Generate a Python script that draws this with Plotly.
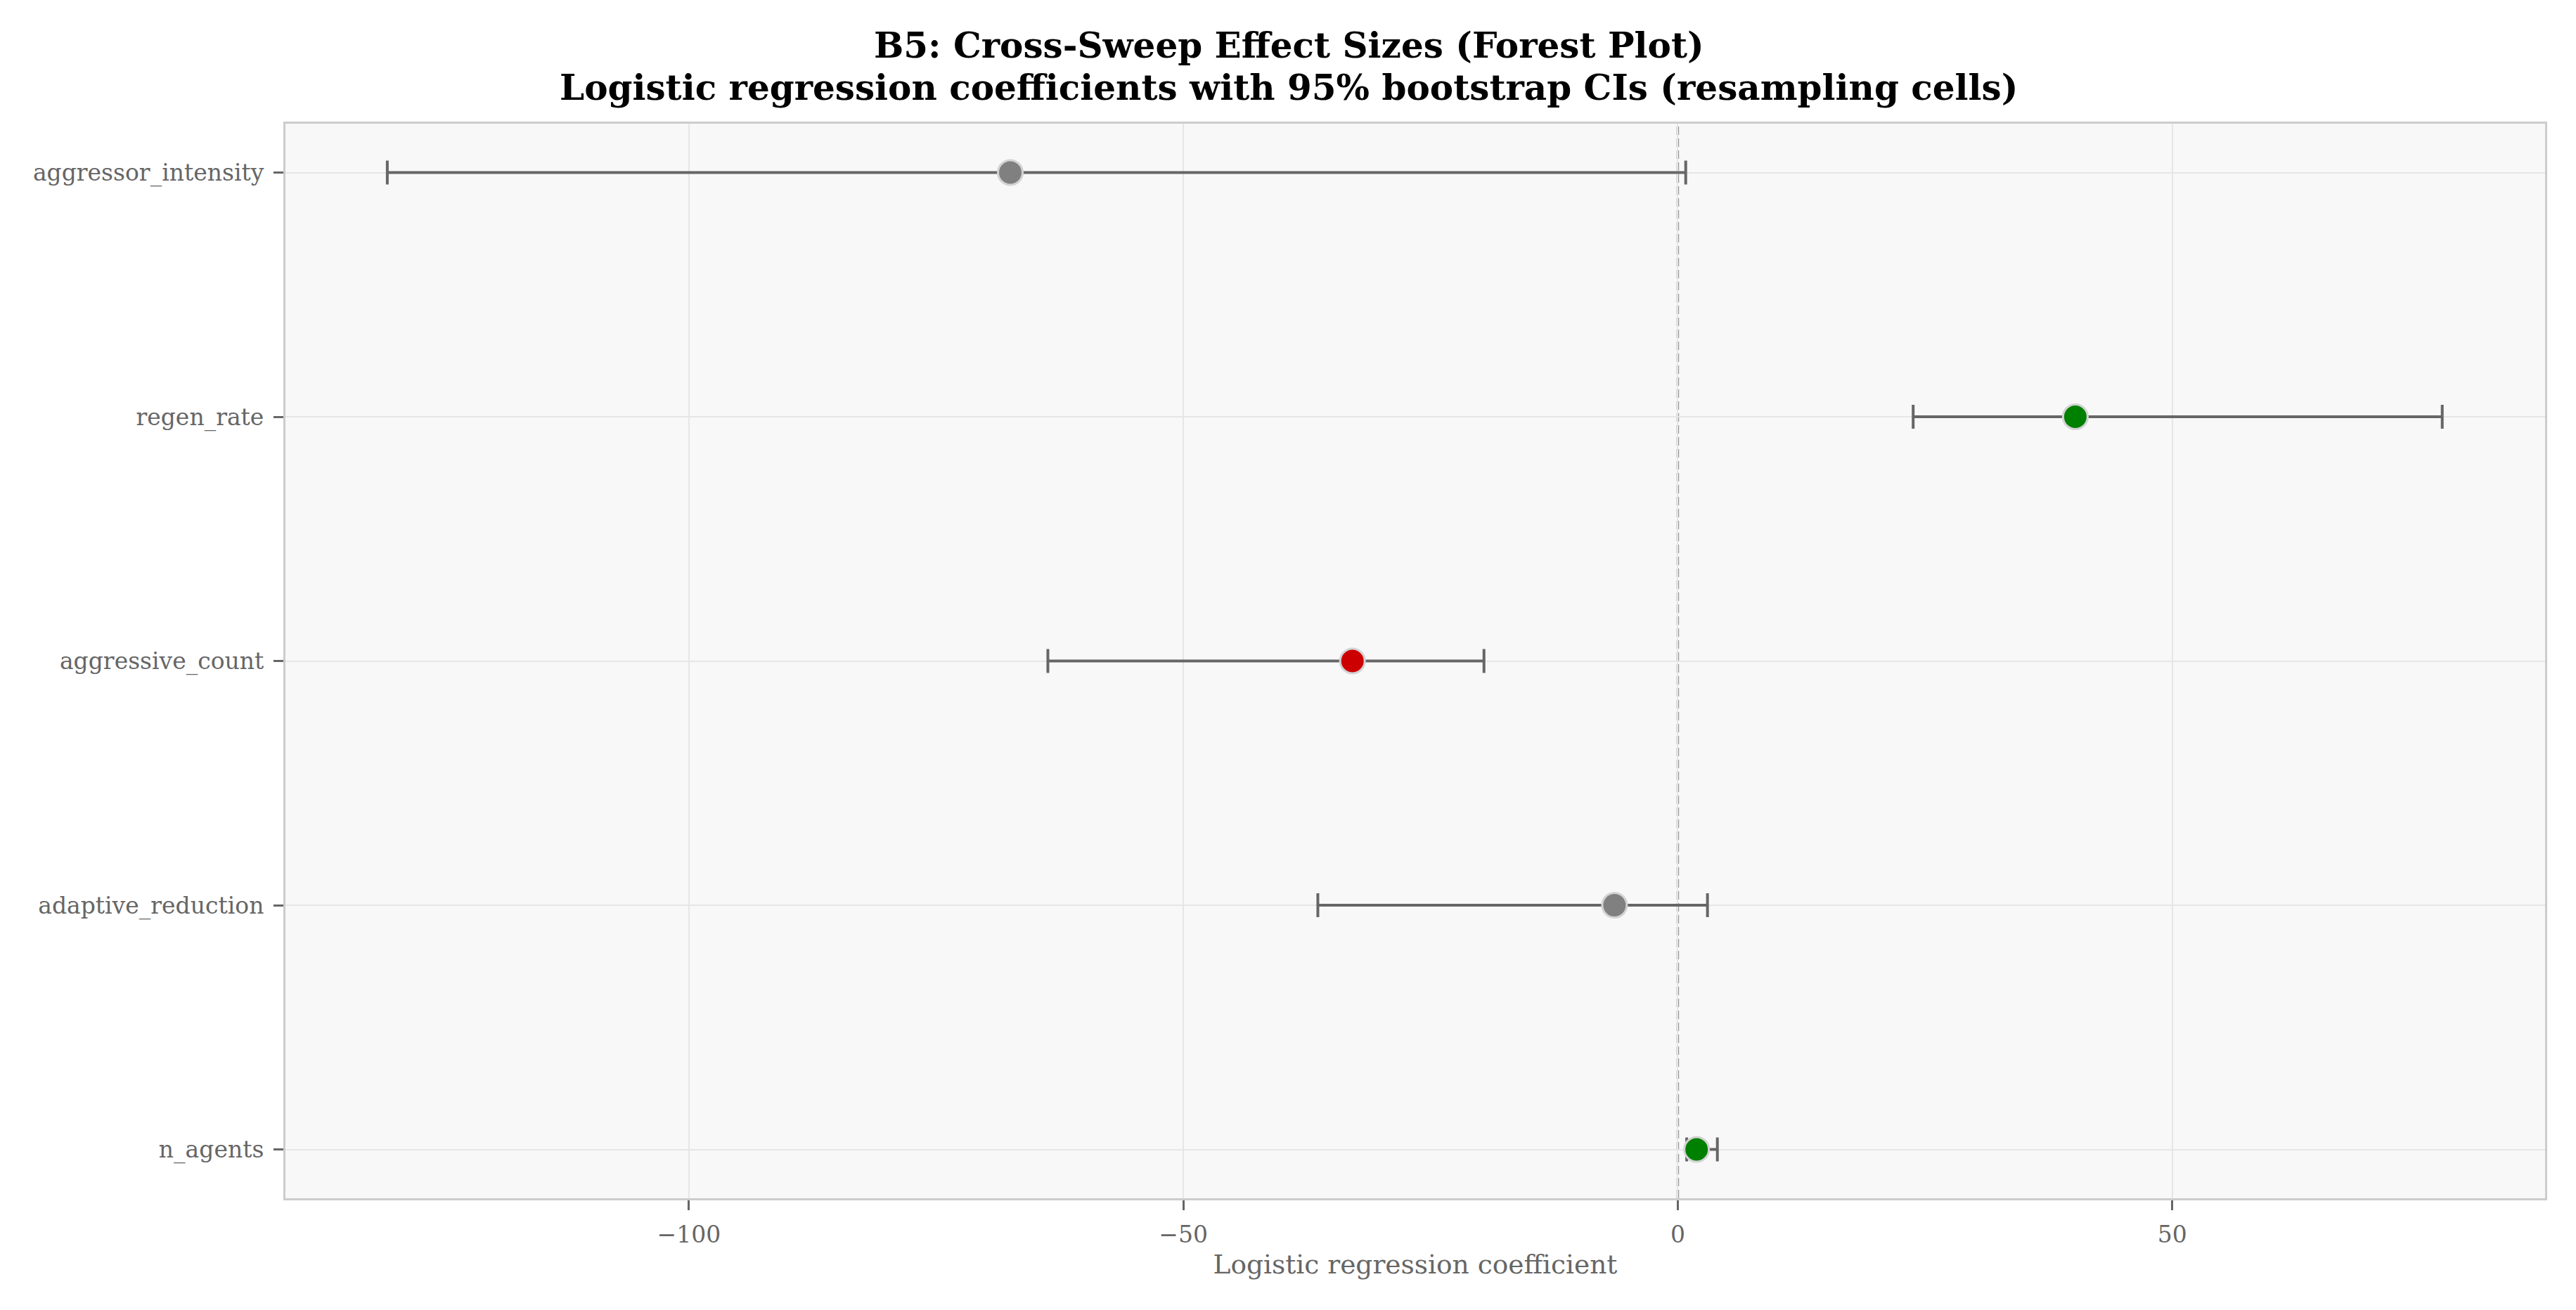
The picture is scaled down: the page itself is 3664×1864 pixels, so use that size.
import plotly.graph_objects as go

# Data (top-to-bottom order in the reference)
predictors = ["aggressor_intensity", "regen_rate", "aggressive_count", "adaptive_reduction", "n_agents"]
coef = [-67.5, 40.2, -32.9, -6.4, 1.9]
ci_low = [-130.5, 23.8, -63.7, -36.4, 0.9]
ci_high = [0.8, 77.3, -19.6, 3.0, 4.0]
point_colors = ["#808080", "#008000", "#cc0000", "#808080", "#008000"]

title_main = "B5: Cross-Sweep Effect Sizes (Forest Plot)"
title_sub = "Logistic regression coefficients with 95% bootstrap CIs (resampling cells)"
x_label = "Logistic regression coefficient"

# plot bottom-to-top
n = len(predictors)
ypos = [n - 1 - i for i in range(n)]

err_plus = [h - c for h, c in zip(ci_high, coef)]
err_minus = [c - l for c, l in zip(coef, ci_low)]

font_family = "DejaVu Serif"
W, H = 3664, 1864
ml, mr, mt, mb = 398, 52, 168, 167

fig = go.Figure()
fig.add_trace(go.Scatter(
    x=coef, y=ypos, mode="markers",
    marker=dict(size=35, color=point_colors, line=dict(color="#d3d3d3", width=3)),
    error_x=dict(type="data", symmetric=False, array=err_plus, arrayminus=err_minus,
                 color="#666666", thickness=4, width=17),
    showlegend=False, hoverinfo="skip",
))

fig.add_shape(type="line", xref="x", yref="paper", x0=0, x1=0, y0=0, y1=1,
              line=dict(color="#9a9a9a", width=3.5, dash="12px,5px"), layer="below")

plot_h = H - mt - mb
plot_w = W - ml - mr
def ypaper(px_from_top):
    return (H - mb - px_from_top) / plot_h
def xpaper(px_from_left):
    return (px_from_left - ml) / plot_w

title_x = xpaper(1825)
fig.add_annotation(text=f"<b>{title_main}</b>", xref="paper", yref="paper",
                   x=title_x, y=ypaper(57), xanchor="center", yanchor="middle",
                   showarrow=False, font=dict(family=font_family, size=50, color="black"))
fig.add_annotation(text=f"<b>{title_sub}</b>", xref="paper", yref="paper",
                   x=title_x, y=ypaper(116), xanchor="center", yanchor="middle",
                   showarrow=False, font=dict(family=font_family, size=50, color="black"))

fig.update_layout(
    width=W, height=H,
    margin=dict(l=ml, r=mr, t=mt, b=mb),
    paper_bgcolor="white", plot_bgcolor="#f8f8f8",
    font=dict(family=font_family, color="#666666", size=33),
    xaxis=dict(range=[-140.8, 87.7], dtick=50, tick0=0,
               showgrid=True, gridcolor="#e6e6e6", gridwidth=2,
               zeroline=False, showline=True, linecolor="#cccccc", linewidth=3, mirror=True,
               ticks="outside", ticklen=14, tickwidth=2.5, tickcolor="#666666",
               tickfont=dict(size=33, color="#666666"), ticklabelstandoff=6,
               title=dict(text=x_label, font=dict(size=37.5, color="#666666"), standoff=12)),
    yaxis=dict(range=[-0.2, 4.2], tickmode="array", tickvals=ypos, ticktext=predictors,
               showgrid=True, gridcolor="#e6e6e6", gridwidth=2,
               zeroline=False, showline=True, linecolor="#cccccc", linewidth=3, mirror=True,
               ticks="outside", ticklen=14, tickwidth=2.5, tickcolor="#666666",
               tickfont=dict(size=33, color="#666666"), ticklabelstandoff=7),
)

fig.write_html("out.html")
